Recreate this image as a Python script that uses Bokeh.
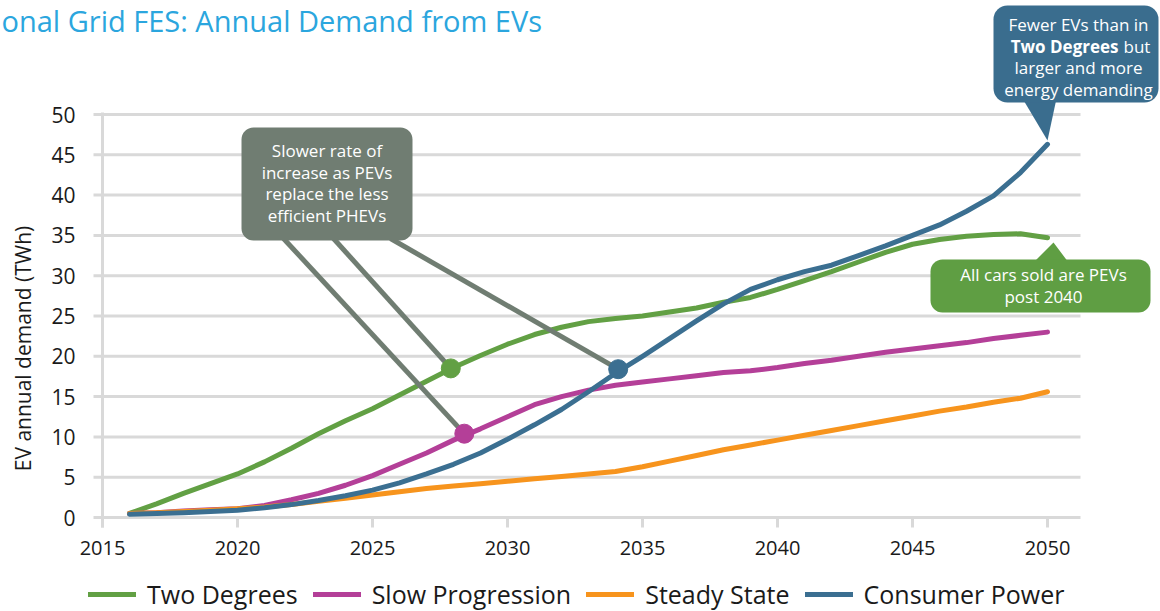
import math
from bokeh.plotting import figure
from bokeh.models import (Range1d, BoxAnnotation, PolyAnnotation, Label,
                          Legend, LegendItem)
from bokeh.core.properties import value
from bokeh.embed import file_html
from bokeh.resources import INLINE

# ---------------- data ----------------
years = [2016, 2017, 2018, 2019, 2020, 2021, 2022, 2023, 2024, 2025,
         2026, 2027, 2028, 2029, 2030, 2031, 2032, 2033, 2034, 2035,
         2036, 2037, 2038, 2039, 2040, 2041, 2042, 2043, 2044, 2045,
         2046, 2047, 2048, 2049, 2050]

two_degrees = [0.5, 1.7, 3.0, 4.2, 5.4, 6.9, 8.6, 10.4, 12.0, 13.5,
               15.2, 16.9, 18.6, 20.1, 21.5, 22.7, 23.6, 24.3, 24.7, 25.0,
               25.5, 26.0, 26.7, 27.3, 28.3, 29.4, 30.5, 31.7, 32.9, 33.9,
               34.5, 34.9, 35.1, 35.2, 34.7]

slow_progression = [0.5, 0.6, 0.8, 0.95, 1.1, 1.5, 2.2, 3.0, 4.0, 5.2,
                    6.6, 8.0, 9.6, 11.0, 12.5, 14.0, 15.0, 15.8, 16.4, 16.8,
                    17.2, 17.6, 18.0, 18.2, 18.6, 19.1, 19.5, 20.0, 20.5, 20.9,
                    21.3, 21.7, 22.2, 22.6, 23.0]

steady_state = [0.5, 0.6, 0.75, 0.9, 1.1, 1.3, 1.6, 2.0, 2.4, 2.8,
                3.2, 3.6, 3.9, 4.2, 4.5, 4.8, 5.1, 5.4, 5.7, 6.3,
                7.0, 7.7, 8.4, 9.0, 9.6, 10.2, 10.8, 11.4, 12.0, 12.6,
                13.2, 13.7, 14.3, 14.8, 15.6]

consumer_power = [0.4, 0.5, 0.6, 0.75, 0.9, 1.2, 1.6, 2.1, 2.7, 3.4,
                  4.3, 5.4, 6.6, 8.0, 9.7, 11.5, 13.4, 15.6, 17.9, 20.0,
                  22.2, 24.4, 26.5, 28.3, 29.5, 30.5, 31.3, 32.5, 33.7, 35.0,
                  36.3, 38.0, 39.9, 42.8, 46.3]

series_names = ["Two Degrees", "Slow Progression", "Steady State", "Consumer Power"]
series_values = [two_degrees, slow_progression, steady_state, consumer_power]

x_ticks = [2015, 2020, 2025, 2030, 2035, 2040, 2045, 2050]
y_ticks = [0, 5, 10, 15, 20, 25, 30, 35, 40, 45, 50]

highlight_years = [2027.9, 2028.4, 2034.1]
highlight_values = [18.5, 10.4, 18.4]
highlight_series = ["Two Degrees", "Slow Progression", "Consumer Power"]

title_text = "onal Grid FES: Annual Demand from EVs"
y_title = "EV annual demand (TWh)"
note_gray = ["Slower rate of", "increase as PEVs", "replace the less", "efficient PHEVs"]
note_green = ["All cars sold are PEVs", "post 2040"]
note_blue_1 = "Fewer EVs than in"
note_blue_2_bold = "Two Degrees"
note_blue_2 = "but"
note_blue_3 = "larger and more"
note_blue_4 = "energy demanding"

# ---------------- style ----------------
COLORS = {"Two Degrees": "#62a044", "Slow Progression": "#b43f98",
          "Steady State": "#f7941d", "Consumer Power": "#3b6f91"}
GRAY = "#707d72"
BLUE_BOX = "#3a6d8e"
GREEN_BOX = "#5f9e43"
GRID = "#d9d9d9"
TXT = "#1a1a1a"
FONT = "Open Sans"

W, H = 1160, 611


def dx(px):  # picture pixel -> data x (placement of guides / annotations)
    return 2015 + (px - 102) / 27.0


def dy(py):  # picture pixel -> data y
    return (517 - py) / 8.06


# the frame covers the whole canvas so that the call-outs, title and legend
# around the plotting area are not clipped
p = figure(width=W, height=H, output_backend="svg", toolbar_location=None,
           x_range=Range1d(dx(0), dx(W)), y_range=Range1d(dy(H), dy(0)),
           x_axis_location=None, y_axis_location=None,
           min_border_left=0, min_border_right=0, min_border_top=0,
           min_border_bottom=0)
p.outline_line_color = None
for g in p.grid:
    g.visible = False

# ---- guides: grid lines, axis line, ticks, tick labels ----
p.segment(x0=[dx(93)] * len(y_ticks), x1=[dx(1080)] * len(y_ticks),
          y0=y_ticks, y1=y_ticks, line_color=GRID, line_width=3)
p.segment(x0=[2015], x1=[2015], y0=[dy(527)], y1=[dy(112)],
          line_color=GRID, line_width=3)
p.segment(x0=x_ticks, x1=x_ticks, y0=[0] * len(x_ticks),
          y1=[dy(527)] * len(x_ticks), line_color=GRID, line_width=3)

p.text(x=[dx(75)] * len(y_ticks), y=y_ticks, text=[str(t) for t in y_ticks],
       text_align="right", text_baseline="middle", text_color=TXT,
       text_font=value(FONT), text_font_size=value("21px"))
p.text(x=x_ticks, y=[dy(547)] * len(x_ticks), text=[str(t) for t in x_ticks],
       text_align="center", text_baseline="middle", text_color=TXT,
       text_font=value(FONT), text_font_size=value("20px"))

p.add_layout(Label(x=dx(22), y=dy(348), text=y_title, angle=math.pi / 2,
                   text_align="center", text_baseline="middle", text_color=TXT,
                   text_font=FONT, text_font_size="21px"))

# ---- series ----
renderers = []
for name, vals in zip(series_names, series_values):
    r = p.line(years, vals, line_width=5, line_color=COLORS[name],
               line_join="round", line_cap="round")
    renderers.append(r)

# ---- gray call-out connectors and highlighted points ----
conn_x0 = [dx(333), dx(283), dx(390)]
conn_y0 = [dy(238)] * 3
p.segment(x0=conn_x0, y0=conn_y0, x1=highlight_years, y1=highlight_values,
          line_color=GRAY, line_width=5)
p.scatter(highlight_years, highlight_values, size=19,
          color=[COLORS[s] for s in highlight_series])

# gray call-out
p.add_layout(BoxAnnotation(left=dx(241), right=dx(412), top=dy(127), bottom=dy(240),
                           fill_color=GRAY, fill_alpha=1, line_color=None,
                           border_radius=12))
for i, t in enumerate(note_gray):
    p.add_layout(Label(x=dx(326.5), y=dy(150 + 21.5 * i), text=t, text_align="center",
                       text_baseline="middle", text_color="white",
                       text_font=FONT, text_font_size="17px"))

# blue call-out
p.add_layout(PolyAnnotation(xs=[dx(1022), dx(1056), dx(1047)],
                            ys=[dy(98), dy(98), dy(140)],
                            fill_color=BLUE_BOX, fill_alpha=1, line_color=None))
p.add_layout(BoxAnnotation(left=dx(993), right=dx(1158), top=dy(5), bottom=dy(102),
                           fill_color=BLUE_BOX, fill_alpha=1, line_color=None,
                           border_radius=14))
blue_common = dict(text_baseline="middle", text_color="white", text_font=FONT,
                   text_font_size="17px")
p.add_layout(Label(x=dx(1078), y=dy(24), text=note_blue_1, text_align="center", **blue_common))
p.add_layout(Label(x=dx(1118), y=dy(45.5), text=note_blue_2_bold, text_align="right",
                   text_font_style="bold", **blue_common))
p.add_layout(Label(x=dx(1123), y=dy(45.5), text=note_blue_2, text_align="left", **blue_common))
p.add_layout(Label(x=dx(1078), y=dy(67), text=note_blue_3, text_align="center", **blue_common))
p.add_layout(Label(x=dx(1078), y=dy(88.5), text=note_blue_4, text_align="center", **blue_common))

# green call-out
p.add_layout(PolyAnnotation(xs=[dx(1033), dx(1068), dx(1053)],
                            ys=[dy(262), dy(262), dy(242)],
                            fill_color=GREEN_BOX, fill_alpha=1, line_color=None))
p.add_layout(BoxAnnotation(left=dx(930), right=dx(1150), top=dy(259), bottom=dy(312),
                           fill_color=GREEN_BOX, fill_alpha=1, line_color=None,
                           border_radius=12))
for i, t in enumerate(note_green):
    p.add_layout(Label(x=dx(1043), y=dy(274 + 22 * i), text=t, text_align="center",
                       text_baseline="middle", text_color="white",
                       text_font=FONT, text_font_size="17px"))

# title
p.add_layout(Label(x=dx(1), y=dy(0), text=title_text, text_align="left",
                   text_baseline="top", text_color="#2ba6de", text_font=FONT,
                   text_font_size="29px"))

# legend
legend = Legend(items=[LegendItem(label=n, renderers=[r]) for n, r in zip(series_names, renderers)],
                orientation="horizontal", location=(88, 0),
                border_line_color=None, background_fill_alpha=0,
                padding=0, margin=0, spacing=15, label_standoff=11,
                glyph_width=48, glyph_height=20,
                label_text_font=FONT, label_text_font_size="25px",
                label_text_color=TXT)
p.add_layout(legend)

open("out.html", "w").write(file_html(p, INLINE))
